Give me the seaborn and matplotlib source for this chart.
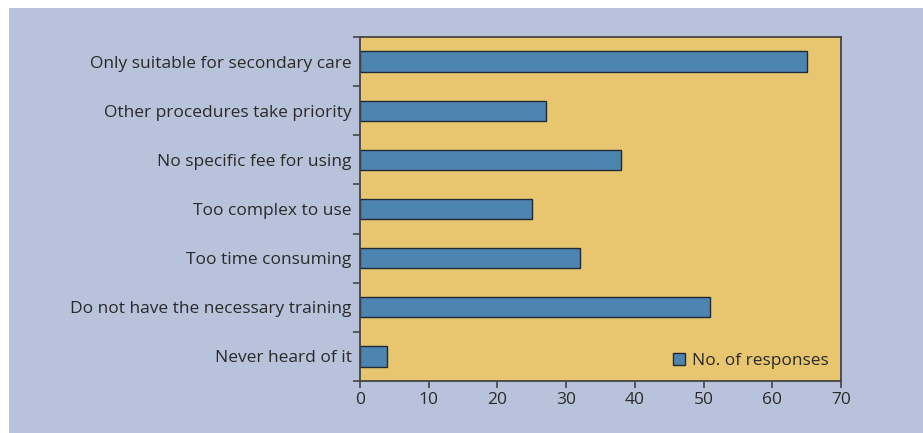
import matplotlib
matplotlib.use("Agg")
import matplotlib.pyplot as plt
import seaborn as sns
import pandas as pd
import numpy as np
from matplotlib.patches import Rectangle, Patch

categories = [
    "Only suitable for secondary care",
    "Other procedures take priority",
    "No specific fee for using",
    "Too complex to use",
    "Too time consuming",
    "Do not have the necessary training",
    "Never heard of it",
]
responses = [65, 27, 38, 25, 32, 51, 4]
x_ticks = [0, 10, 20, 30, 40, 50, 60, 70]
legend_label = "No. of responses"

sns.set_style("ticks")
plt.rcParams["font.family"] = ["Open Sans", "DejaVu Sans"]

df = pd.DataFrame({"reason": categories, "count": responses})

fig = plt.figure(figsize=(9.23, 4.33), dpi=100)
fig.patch.set_facecolor("white")
fig.patches.append(Rectangle((9 / 923, 0), 1, 1 - 8 / 433, transform=fig.transFigure,
                             facecolor="#B8C2DA", edgecolor="none", zorder=-10))
ax = fig.add_axes([360 / 923, 1 - 381 / 433, 481 / 923, 344 / 433])
ax.set_facecolor("#E8C670")

sns.barplot(data=df, x="count", y="reason", orient="h", color="#4E84B0",
            edgecolor="#1F2A36", linewidth=1.0, width=0.41, saturation=1, ax=ax)

ax.set_xlim(0, 70)
ax.set_ylim(len(categories) - 0.5, -0.5)
ax.set_xticks(x_ticks)
ax.set_xlabel("")
ax.set_ylabel("")

# y ticks at category boundaries
ax.set_yticks(np.arange(len(categories) + 1) - 0.5, minor=True)
ax.tick_params(axis="y", which="major", length=0, labelsize=12.5, pad=6)
ax.tick_params(axis="y", which="minor", length=5, width=1.2, color="#444444")
ax.tick_params(axis="x", which="major", length=5, width=1.2, color="#444444",
               labelsize=12.5, pad=3)
for lbl in ax.get_xticklabels() + ax.get_yticklabels():
    lbl.set_color("#2A2A2A")

for side in ["top", "right", "left", "bottom"]:
    ax.spines[side].set_visible(True)
    ax.spines[side].set_color("#444444")
    ax.spines[side].set_linewidth(1.3)

handle = Patch(facecolor="#4E84B0", edgecolor="#1F2A36", linewidth=1.0)
leg = ax.legend([handle], [legend_label], loc="lower right", frameon=False,
                fontsize=12.5, handlelength=0.7, handleheight=0.7, handletextpad=0.4,
                borderaxespad=0.3, borderpad=0.4)
for t in leg.get_texts():
    t.set_color("#2A2A2A")

fig.savefig("out.png", dpi=100, facecolor=fig.get_facecolor())
